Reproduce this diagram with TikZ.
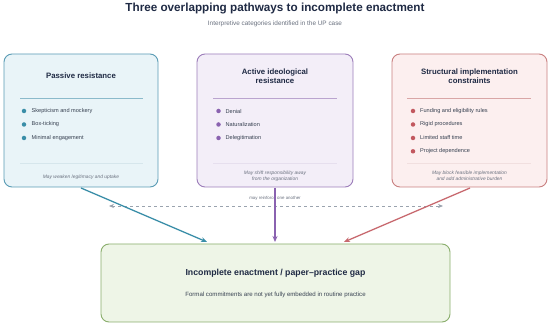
\documentclass[tikz,border=0pt]{standalone}
\usepackage{fontspec}
\setmainfont{Liberation Sans}
\usetikzlibrary{arrows.meta}
\definecolor{titlec}{HTML}{1F2A44}
\definecolor{subc}{HTML}{6B7280}
\definecolor{bluefill}{HTML}{E9F4F8}
\definecolor{blueline}{HTML}{5A9CB5}
\definecolor{bluedot}{HTML}{3A8EA8}
\definecolor{purfill}{HTML}{F3EEF8}
\definecolor{purline}{HTML}{9C7DBA}
\definecolor{purdot}{HTML}{8A62B0}
\definecolor{redfill}{HTML}{FCEFEF}
\definecolor{redline}{HTML}{C98080}
\definecolor{reddot}{HTML}{C2585F}
\definecolor{grnfill}{HTML}{EEF5E7}
\definecolor{grnline}{HTML}{8AAE6C}
\definecolor{textc}{HTML}{374151}
\definecolor{dashc}{HTML}{9AA3AE}
\begin{document}
\begin{tikzpicture}[x=1pt,y=-1pt,
  card/.style={rounded corners=8pt,line width=0.9pt},
  cardtitle/.style={font=\bfseries\fontsize{7.8}{9}\selectfont,text=titlec,align=center},
  item/.style={font=\fontsize{5.6}{6.5}\selectfont,text=textc,anchor=west,inner sep=0pt},
  foot/.style={font=\itshape\fontsize{4.9}{5.7}\selectfont,text=subc,align=center},
  dot/.style={circle,inner sep=0pt,minimum size=4.5pt},
  flow/.style={line width=1.3pt,-{Stealth[length=6pt,width=5pt]}}]
\useasboundingbox (0,0) rectangle (550,326);
\fill[white] (0,0) rectangle (550,326);
\node[font=\bfseries\fontsize{11.7}{14}\selectfont,text=titlec] (title) at (275,8.5) {Three overlapping pathways to incomplete enactment};
\node[font=\fontsize{6.4}{7.5}\selectfont,text=subc] (sub) at (275,24) {Interpretive categories identified in the UP case};

% Box 1
\draw[card,fill=bluefill,draw=blueline] (4,54) rectangle (158,187);
\node[cardtitle] (t1) at (81,76) {Passive resistance};
\draw[blueline!70,line width=0.6pt] (20,98) -- (143,98);
\draw[blueline!25,line width=0.6pt] (20,163) -- (143,163);
\foreach \y/\t [count=\i] in {111/Skepticism and mockery,124.5/Box-ticking,138/Minimal engagement}{
  \node[dot,fill=bluedot] (d1\i) at (24,\y) {};
  \node[item] (i1\i) at (31.5,\y) {\t};
}
\node[foot] (f1) at (81,177) {May weaken legitimacy and uptake};

% Box 2
\draw[card,fill=purfill,draw=purline] (197,54) rectangle (353,187);
\node[cardtitle] (t2) at (275,76.5) {Active ideological\\resistance};
\draw[purline!70,line width=0.6pt] (213,98) -- (337,98);
\draw[purline!25,line width=0.6pt] (213,163) -- (337,163);
\foreach \y/\t [count=\i] in {111/Denial,124.5/Naturalization,138/Delegitimation}{
  \node[dot,fill=purdot] (d2\i) at (218.5,\y) {};
  \node[item] (i2\i) at (225.5,\y) {\t};
}
\node[foot] (f2) at (275,176) {May shift responsibility away\\from the organization};

% Box 3
\draw[card,fill=redfill,draw=redline] (392,54) rectangle (547,187);
\node[cardtitle] (t3) at (469.5,76.5) {Structural implementation\\constraints};
\draw[redline!70,line width=0.6pt] (407,98) -- (531,98);
\draw[redline!25,line width=0.6pt] (407,163) -- (531,163);
\foreach \y/\t [count=\i] in {111/Funding and eligibility rules,124.5/Rigid procedures,138/Limited staff time,151.3/Project dependence}{
  \node[dot,fill=reddot] (d3\i) at (413,\y) {};
  \node[item] (i3\i) at (420,\y) {\t};
}
\node[foot] (f3) at (469.5,176) {May block feasible implementation\\and add administrative burden};

% Bottom box
\draw[card,fill=grnfill,draw=grnline] (101,244) rectangle (450,322);
\node[font=\bfseries\fontsize{8.75}{10}\selectfont,text=titlec] (bt) at (275.5,273) {Incomplete enactment / paper--practice gap};
\node[font=\fontsize{6.1}{7}\selectfont,text=textc] (bs) at (275.5,295) {Formal commitments are not yet fully embedded in routine practice};

% coordinates
\coordinate (s1) at (81,188);
\coordinate (e1) at (207,242);
\coordinate (s2) at (275,188);
\coordinate (e2) at (275,242);
\coordinate (s3) at (470,188);
\coordinate (e3) at (344,242);
\coordinate (dl) at (109,206);
\coordinate (dr) at (443,206);

% dashed reinforce line
\draw[dashc,dashed,line width=0.7pt,{Stealth[length=5pt,width=4pt]}-{Stealth[length=5pt,width=4pt]}] (dl) -- (dr);
\node[font=\fontsize{4.4}{5.2}\selectfont,text=subc] (rl) at (275,198.5) {may reinforce one another};

% flows
\draw[flow,draw=bluedot,color=bluedot] (s1) -- (e1);
\draw[flow,draw=purdot,color=purdot] (s2) -- (e2);
\draw[flow,draw=reddot,color=reddot!90!white] (s3) -- (e3);
\end{tikzpicture}
\end{document}
